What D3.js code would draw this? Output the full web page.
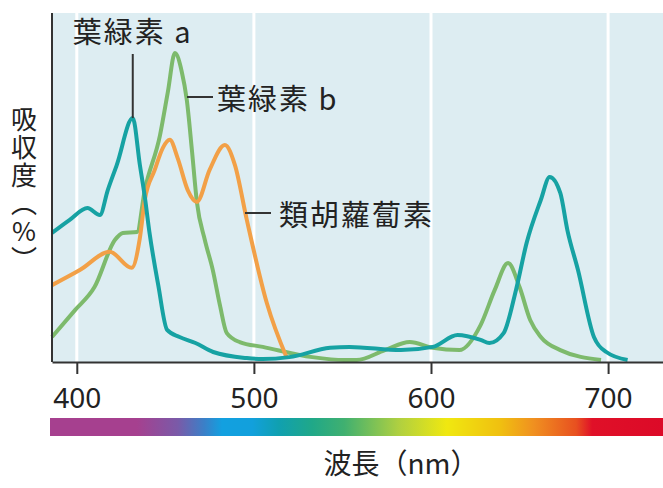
<!DOCTYPE html>
<html>
<head>
<meta charset="utf-8">
<script src="https://d3js.org/d3.v7.min.js"></script>
<style>
  body { margin: 0; background: #fff; }
  svg { display: block; }
  .cjk { font-family: "Noto Sans CJK JP", "Noto Sans CJK TC", sans-serif; fill: #222; }
  .tick text { font-family: "Noto Sans", "DejaVu Sans", sans-serif; font-size: 28px; fill: #222; }
  .ytitle { writing-mode: vertical-rl; text-orientation: upright; }
</style>
</head>
<body>
<script>
// ---------------------------------------------------------------
// data: [wavelength nm, absorbance %]
// ---------------------------------------------------------------
var chlA = [[386,39.7],[396,43.8],[406,47.5],[413,45.3],[417.5,53.1],[422.6,61],[431.6,75.6],
  [435.6,61],[438.4,51],[441,40],[446,23.4],[451,9.4],[458,7.2],[467,5.3],[477,2.5],[496,0.6],
  [505,0.3],[520,0.9],[543,3.8],[554,4.1],[583,3.1],[601,4.1],[615,7.8],[628,6.3],[633,5.3],
  [641,8.4],[648,21.9],[654,36.6],[662,50],[667,57.2],[673,52.2],[677,40.6],[683,28.1],
  [692,7.2],[699,2.5],[711,0]];

var chlB = [[386,7.2],[399,15.6],[410,22.8],[421.5,37.5],[426,39.7],[434,40],[438.4,53.1],
  [447,70.3],[451.4,83.7],[455.4,95.9],[459.3,90],[462.1,81.3],[465,65.6],[467.8,49.4],
  [472.3,37.5],[476.8,28.1],[480.8,17.2],[484.7,8.4],[492,5.6],[505,4.1],[533,0.9],[551,0],
  [558,0],[574,3.1],[588,5.6],[601,3.8],[616,3.1],[628,10.9],[636,21.9],[643.5,30.3],
  [650,22.8],[656,12.5],[662,7.2],[673,3.1],[696,0]];

var carot = [[386,23.4],[401.7,28.1],[418.6,33.8],[431,28.8],[435.6,38.1],[438.4,50],
  [444,59.4],[448.6,66.3],[452.5,68.8],[457,63],[462.7,53],[467.8,49.4],[475,59.4],
  [483.6,67.2],[489.3,60.9],[496,43.8],[507.3,17.8],[518.6,0.6]];

var tickNm = [400, 500, 600, 700];

// spectrum bar colours by wavelength
var specNm  = [386, 434, 457, 472, 482, 499, 514, 533, 551, 582, 609, 639, 658, 682, 691, 731];
var specCol = ["#a6408f","#a6408f","#7a5aa8","#3a80c8","#12a0e0","#12a0dc","#10a0b0","#20a888",
  "#40b070","#b0d040","#f0e810","#f0c010","#f09020","#e85020","#e01028","#dc0a28"];

var labels = { a: "葉緑素 a", b: "葉緑素 b", c: "類胡蘿蔔素" };
var yTitle = "吸収度（%）";
var xTitle = "波長（nm）";

// ---------------------------------------------------------------
var W = 663, H = 488;
var plot = { left: 52, right: 663, top: 13, bottom: 362 };

var svg = d3.select("body").append("svg").attr("width", W).attr("height", H);

var x = d3.scaleLinear().domain([386, 731]).range([plot.left, plot.right]);
var y = d3.scaleLinear().domain([0, 100]).range([360, 40]);

// panel
svg.append("rect")
  .attr("x", plot.left).attr("y", plot.top)
  .attr("width", plot.right - plot.left).attr("height", plot.bottom - plot.top)
  .attr("fill", "#ddedf2");

svg.selectAll("line.grid").data(tickNm).enter().append("line")
  .attr("class", "grid")
  .attr("x1", function(d){ return x(d); }).attr("x2", function(d){ return x(d); })
  .attr("y1", plot.top).attr("y2", plot.bottom)
  .attr("stroke", "#fff").attr("stroke-width", 3);

// curves
var line = d3.line()
  .x(function(d){ return x(d[0]); })
  .y(function(d){ return y(d[1]); })
  .curve(d3.curveMonotoneX);

var series = [
  { data: chlB,  color: "#7dba6c" },
  { data: carot, color: "#f2a047" },
  { data: chlA,  color: "#16a2a3" }
];
series.forEach(function(s){
  svg.append("path").datum(s.data)
    .attr("d", line)
    .attr("fill", "none")
    .attr("stroke", s.color)
    .attr("stroke-width", 4)
    .attr("stroke-linejoin", "round");
});

// axes
svg.append("line")
  .attr("x1", plot.left).attr("x2", plot.left)
  .attr("y1", plot.top).attr("y2", plot.bottom)
  .attr("stroke", "#333").attr("stroke-width", 2);

var xAxis = svg.append("g")
  .attr("transform", "translate(0," + plot.bottom + ")")
  .call(d3.axisBottom(x).tickValues(tickNm).tickSize(12).tickSizeOuter(0).tickPadding(14));
xAxis.select(".domain").attr("stroke", "#333").attr("stroke-width", 2);
xAxis.selectAll(".tick line").attr("stroke", "#333").attr("stroke-width", 2);

// spectrum bar
var grad = svg.append("defs").append("linearGradient")
  .attr("id", "spec").attr("gradientUnits", "userSpaceOnUse")
  .attr("x1", x(386)).attr("x2", x(731)).attr("y1", 0).attr("y2", 0);
specNm.forEach(function(nm, i){
  grad.append("stop")
    .attr("offset", (nm - 386) / (731 - 386))
    .attr("stop-color", specCol[i]);
});
svg.append("rect")
  .attr("x", 50).attr("y", 418).attr("width", W - 50).attr("height", 18)
  .attr("fill", "url(#spec)");

// annotations
var peakA = d3.greatest(chlA, function(d){ return d[1]; });
svg.append("line")
  .attr("x1", x(peakA[0])).attr("x2", x(peakA[0]))
  .attr("y1", 54).attr("y2", y(peakA[1]))
  .attr("stroke", "#333").attr("stroke-width", 2);
svg.append("text").attr("class", "cjk")
  .attr("x", x(peakA[0])).attr("y", 43)
  .attr("text-anchor", "middle")
  .style("font-size", "29px").style("letter-spacing", "2px")
  .text(labels.a);

svg.append("line")
  .attr("x1", 187).attr("x2", 213).attr("y1", 97).attr("y2", 97)
  .attr("stroke", "#333").attr("stroke-width", 2);
svg.append("text").attr("class", "cjk")
  .attr("x", 217).attr("y", 110)
  .style("font-size", "29px").style("letter-spacing", "2px")
  .text(labels.b);

svg.append("line")
  .attr("x1", 245).attr("x2", 271).attr("y1", 213).attr("y2", 213)
  .attr("stroke", "#333").attr("stroke-width", 2);
svg.append("text").attr("class", "cjk")
  .attr("x", 279).attr("y", 226)
  .style("font-size", "29px").style("letter-spacing", "2px")
  .text(labels.c);

// vertical y title
svg.append("text").attr("class", "cjk ytitle")
  .attr("x", 24).attr("y", 106)
  .style("font-size", "26px").style("letter-spacing", "2px")
  .text(yTitle);

svg.append("text").attr("class", "cjk")
  .attr("x", 401).attr("y", 474)
  .attr("text-anchor", "middle")
  .style("font-size", "28px")
  .text(xTitle);
</script>
</body>
</html>
